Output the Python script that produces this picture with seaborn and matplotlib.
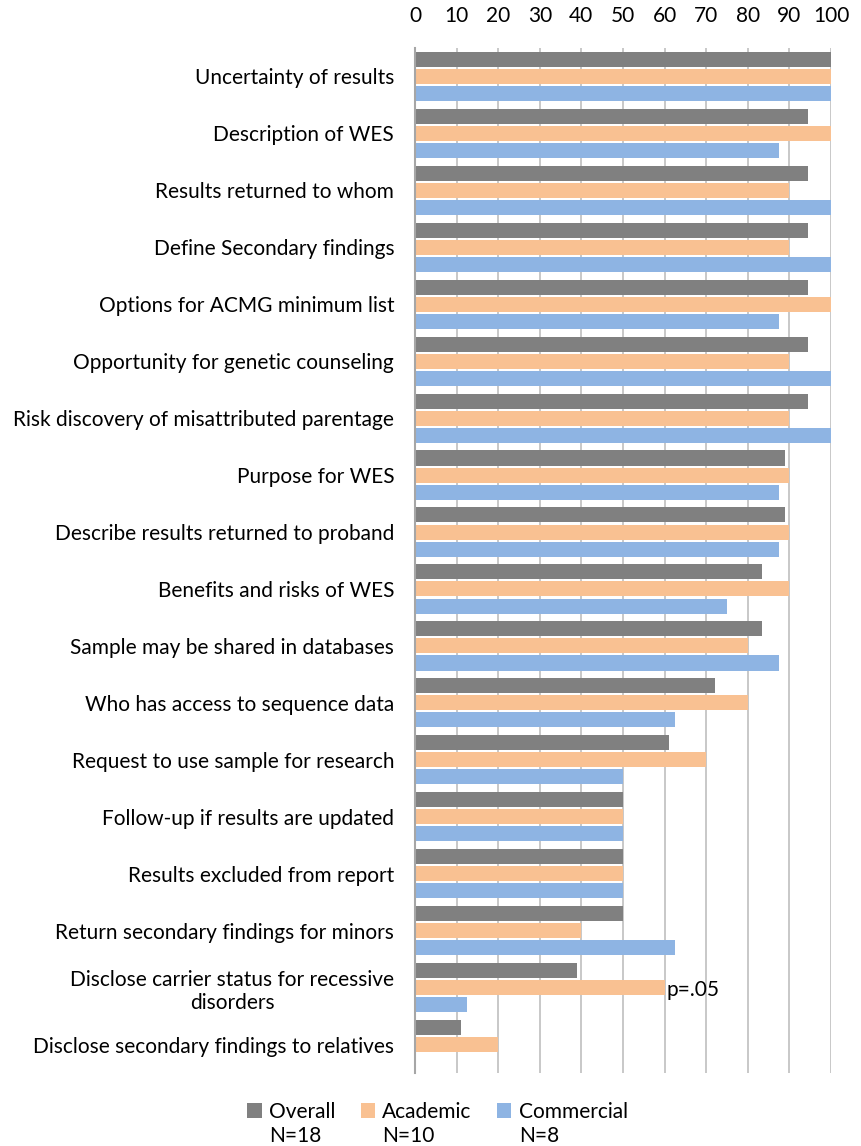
import numpy as np
import pandas as pd
import matplotlib
matplotlib.use("Agg")
import matplotlib.pyplot as plt
import seaborn as sns

# 데이터 (percent of labs)
items = [
    "Uncertainty of results",
    "Description of WES",
    "Results returned to whom",
    "Define Secondary findings",
    "Options for ACMG minimum list",
    "Opportunity for genetic counseling",
    "Risk discovery of misattributed parentage",
    "Purpose for WES",
    "Describe results returned to proband",
    "Benefits and risks of WES",
    "Sample may be shared in databases",
    "Who has access to sequence data",
    "Request to use sample for research",
    "Follow-up if results are updated",
    "Results excluded from report",
    "Return secondary findings for minors",
    "Disclose carrier status for recessive\ndisorders",
    "Disclose secondary findings to relatives",
]
overall = [100, 94.4, 94.4, 94.4, 94.4, 94.4, 94.4, 88.9, 88.9, 83.3, 83.3, 72.2, 61.1, 50, 50, 50, 38.9, 11.1]
academic = [100, 100, 90, 90, 100, 90, 90, 90, 90, 90, 80, 80, 70, 50, 50, 40, 60, 20]
commercial = [100, 87.5, 100, 100, 87.5, 100, 100, 87.5, 87.5, 75, 87.5, 62.5, 50, 50, 50, 62.5, 12.5, 0]
groups = ["Overall", "Academic", "Commercial"]
group_n = ["N=18", "N=10", "N=8"]
colors = ["#808080", "#F9C192", "#8EB4E3"]

df = pd.DataFrame({"item": items, groups[0]: overall, groups[1]: academic, groups[2]: commercial})
df = df.melt(id_vars="item", var_name="group", value_name="pct")

plt.rcParams['font.family'] = ['Lato', 'DejaVu Sans']
FS = 15

fig = plt.figure(figsize=(8.62, 11.46), dpi=100)
ax = fig.add_axes([415 / 862, 1 - 1073 / 1146, 416 / 862, (1073 - 48) / 1146])

sns.barplot(data=df, y="item", x="pct", hue="group", hue_order=groups,
            palette=colors, orient="h", width=0.9, gap=0.12, saturation=1,
            ax=ax)

ax.set_xlim(0, 100)
ax.set_ylim(17.5, -0.5)
ax.set_xticks(np.arange(0, 101, 10))
ax.xaxis.tick_top()
ax.tick_params(axis='x', length=0, pad=16, labelsize=FS)
ax.tick_params(axis='y', length=0, pad=15, labelsize=FS)
for lab in ax.get_yticklabels():
    lab.set_multialignment('center')
ax.set_xlabel('')
ax.set_ylabel('')
ax.grid(axis='x', color='#BFBFBF', linewidth=1.2)
ax.set_axisbelow(True)
for s in ['top', 'right', 'bottom']:
    ax.spines[s].set_visible(False)
ax.spines['left'].set_color('#A6A6A6')
ax.spines['left'].set_linewidth(1.5)

# p-value 주석
ax.text(60.5, 16.05, "p=.05", va='center', ha='left', fontsize=FS)

leg = ax.legend(loc='center', bbox_to_anchor=(0.5075, 1 - 1112 / 1146), bbox_transform=fig.transFigure,
                ncol=3, frameon=False, fontsize=FS, handlelength=0.7, handleheight=0.7,
                handletextpad=0.35, columnspacing=1.2)

# N= 라벨은 범례 텍스트 아래에
fig.canvas.draw()
inv = fig.transFigure.inverted()
for txt, n in zip(leg.get_texts(), group_n):
    bb = txt.get_window_extent()
    x0, _ = inv.transform((bb.x0, bb.y0))
    fig.text(x0, 1 - 1136 / 1146, n, ha='left', va='center', fontsize=FS)

plt.savefig("out.png", dpi=100, facecolor='white')
